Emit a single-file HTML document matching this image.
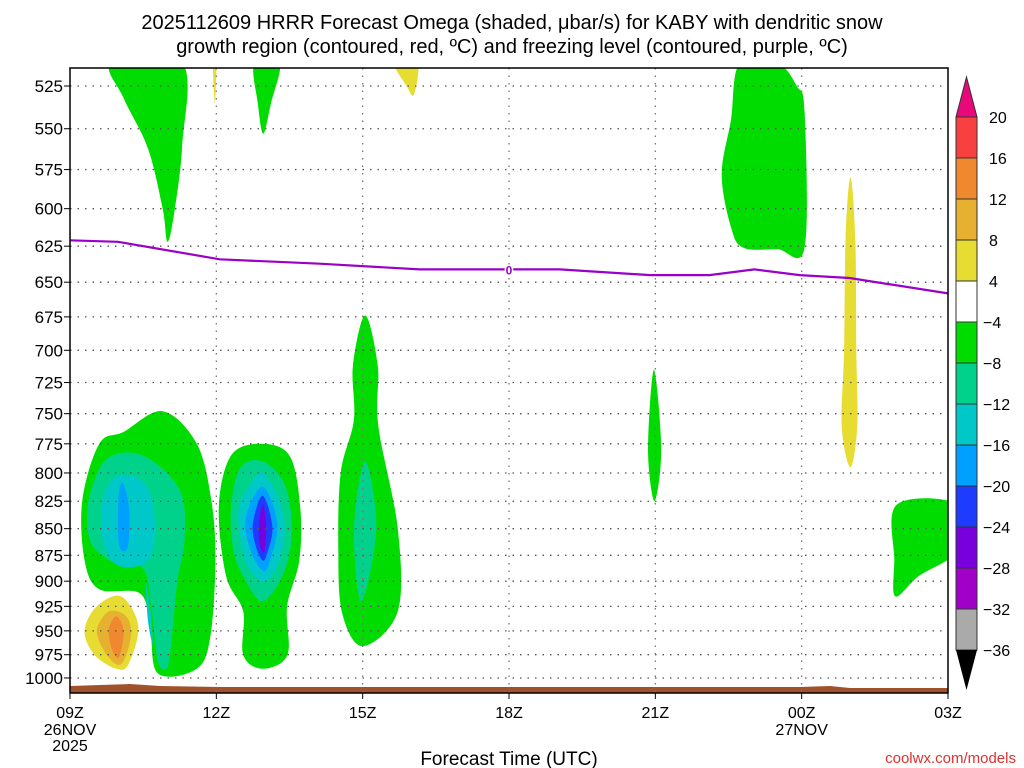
<!DOCTYPE html>
<html><head><meta charset="utf-8"><style>
html,body{margin:0;padding:0;background:#fff;}
svg{display:block;font-family:"Liberation Sans",sans-serif;}
</style></head><body>
<svg id="chart" width="1024" height="768" viewBox="0 0 1024 768">
<g id="title">
<text x="512" y="29" text-anchor="middle" font-size="20" fill="#000">2025112609 HRRR Forecast Omega (shaded, μbar/s) for KABY with dendritic snow</text>
<text x="512" y="53" text-anchor="middle" font-size="20" fill="#000">growth region (contoured, red, ºC) and freezing level (contoured, purple, ºC)</text>
</g>
<defs><clipPath id="plotclip"><rect x="70" y="68" width="878" height="625"/></clipPath></defs>
<g id="fills" clip-path="url(#plotclip)"></g>
<g id="grid"></g>
<g id="lines" clip-path="url(#plotclip)"></g>
<rect x="70" y="68" width="878" height="625" fill="none" stroke="#000" stroke-width="1.5"/>
<g id="yaxis"></g>
<g id="xaxis"></g>
<g id="cbar"></g>
<text x="509" y="765" text-anchor="middle" font-size="19">Forecast Time (UTC)</text>
<text x="1016" y="763" text-anchor="end" font-size="15" fill="#e03030">coolwx.com/models</text>
</svg>
<script>
const pLevels=[525,550,575,600,625,650,675,700,725,750,775,800,825,850,875,900,925,950,975,1000];
const xHours=[0,3,6,9,12,15,18];
const xLabels=["09Z","12Z","15Z","18Z","21Z","00Z","03Z"];
const xDateLabels=[["26NOV","2025"],[],[],[],[],["27NOV"],[]];
const cbLevels=["20","16","12","8","4","-4","-8","-12","-16","-20","-24","-28","-32","-36"];
const cbColors=["#f84040","#f08830","#e6b030","#e6dc32","#ffffff","#00dc00","#00d28c","#00c8c8","#00a0ff","#1e3cff","#7800dc","#a000c8","#aaaaaa"];
const colorOf={"y":"#e6dc32","o1":"#e6b030","o2":"#f08830","g":"#00dc00","t":"#00d28c","c":"#00c8c8","b1":"#00a0ff","b2":"#1e3cff","p":"#7800dc"};
const blobLevels=["g","y","g","y","g","y","g","t","g","g"];
const blobPoints=[
 [[0.86,512],[1.1,532],[1.6,562],[1.9,600],[2.0,622],[2.15,600],[2.3,560],[2.3,512]],
 [[2.93,512],[2.97,535],[3.0,512]],
 [[3.78,512],[3.85,535],[3.96,553],[4.12,535],[4.3,512]],
 [[6.65,512],[6.9,525],[7.05,530],[7.12,512]],
 [[13.73,512],[13.55,545],[13.36,578],[13.55,612],[13.8,626],[14.5,627],[15.06,626],[15.06,540],[14.9,525],[14.5,512]],
 [[16.0,580],[15.9,620],[15.87,700],[15.82,760],[16.0,795],[16.14,760],[16.12,700],[16.1,620]],
 [[6.05,674],[5.8,712],[5.82,755],[5.55,800],[5.5,870],[5.58,932],[6.0,966],[6.72,930],[6.72,850],[6.32,760],[6.31,712]],
 [[6.05,790],[5.82,850],[5.97,920],[6.28,850]],
 [[11.97,715],[11.85,780],[11.98,825],[12.12,780]],
 [[16.95,828],[16.9,880],[16.92,915],[17.4,895],[18.2,870],[18.2,828]]
];
const cplxLevels=["g","t","c","b1","g","t","c","b1","b2","p","y","o1","o2"];
const cplxPoints=[
 [[0.25,825],[0.6,775],[1.1,765],[1.9,748],[2.6,775],[2.9,825],[2.98,880],[2.88,955],[2.6,990],[1.8,995],[1.64,945],[1.43,912],[0.6,908],[0.3,880]],
 [[0.38,825],[0.75,788],[1.5,785],[2.25,815],[2.35,860],[2.2,900],[2.1,950],[2.0,988],[1.8,982],[1.68,930],[1.5,888],[0.9,882],[0.42,862]],
 [[0.68,822],[1.0,802],[1.55,810],[1.74,845],[1.6,880],[1.0,885],[0.68,862]],
 [[1.0,818],[1.1,810],[1.22,835],[1.18,868],[1.0,864]],
 [[3.05,830],[3.3,785],[3.9,775],[4.5,785],[4.72,830],[4.7,880],[4.45,925],[4.46,975],[3.95,990],[3.55,975],[3.55,930],[3.2,895]],
 [[3.3,830],[3.5,795],[3.95,790],[4.4,810],[4.55,850],[4.4,890],[3.95,920],[3.55,895],[3.35,870]],
 [[3.45,835],[3.7,810],[3.95,800],[4.3,825],[4.4,855],[4.25,885],[3.95,900],[3.6,880]],
 [[3.6,840],[3.95,812],[4.25,845],[4.1,880],[3.95,890],[3.7,870]],
 [[3.75,845],[3.95,820],[4.15,848],[4.05,872],[3.95,880],[3.8,865]],
 [[3.88,845],[3.95,828],[4.02,845],[4.0,868],[3.95,872],[3.88,862]],
 [[0.3,950],[0.55,925],[1.05,915],[1.4,945],[1.2,985],[0.95,990],[0.5,975]],
 [[0.55,950],[0.8,930],[1.15,935],[1.25,955],[1.05,985],[0.75,975]],
 [[0.8,948],[0.95,935],[1.1,950],[1.0,978],[0.85,968]]
];
const fzHours=[0,0.98,3.07,5.12,7.17,9.02,10.04,11.89,13.11,14.03,14.96,15.98,18];
const fzPress=[621,622,634,637,641,641,641,645,645,641,645,647,658];

const X=h=>70+h*(878/18);
const Y=p=>86+918.7*Math.log(p/525);
const NS="http://www.w3.org/2000/svg";
function mk(tag,attrs,parent){const e=document.createElementNS(NS,tag);for(const k in attrs)e.setAttribute(k,attrs[k]);parent.appendChild(e);return e;}
function smoothClosed(pts){
 const n=pts.length;let d="M"+pts[0][0].toFixed(1)+","+pts[0][1].toFixed(1);
 for(let i=0;i<n;i++){const p0=pts[(i-1+n)%n],p1=pts[i],p2=pts[(i+1)%n],p3=pts[(i+2)%n];
  const c1=[p1[0]+(p2[0]-p0[0])/6,p1[1]+(p2[1]-p0[1])/6],c2=[p2[0]-(p3[0]-p1[0])/6,p2[1]-(p3[1]-p1[1])/6];
  d+="C"+c1[0].toFixed(1)+","+c1[1].toFixed(1)+" "+c2[0].toFixed(1)+","+c2[1].toFixed(1)+" "+p2[0].toFixed(1)+","+p2[1].toFixed(1);}
 return d+"Z";}
const fills=document.getElementById('fills');
function drawBlob(level,pts,name){
 const px=pts.map(q=>[X(q[0]),Y(q[1])]);
 const e=mk('path',{d:smoothClosed(px),fill:colorOf[level]},fills);
 
 
}
blobLevels.forEach((l,i)=>drawBlob(l,blobPoints[i],'omega-region-'+i));
cplxLevels.forEach((l,i)=>drawBlob(l,cplxPoints[i],'omega-core-'+i));
drawBlob('c',[[1.55,900],[1.65,930],[1.7,965],[1.6,940]],'omega-cyan-spot');
const gnd=mk('path',{d:"M70,686 L100,685 L130,684 L160,686 L220,687 L800,687 L830,686 L850,688 L948,688 L948,693 L70,693 Z",fill:"#a0522d"},fills);



const grid=document.getElementById('grid');
pLevels.forEach(p=>{const g=mk('line',{x1:70,x2:948,y1:Y(p),y2:Y(p),stroke:"#555","stroke-width":1.3,"stroke-dasharray":"1.5,6"},grid);
 
 });
xHours.slice(1,-1).forEach(h=>{const g=mk('line',{x1:X(h),x2:X(h),y1:68,y2:693,stroke:"#777","stroke-width":1.3,"stroke-dasharray":"1.5,6"},grid);
 
 });

const lines=document.getElementById('lines');
let d="";fzHours.forEach((h,i)=>{d+=(i?"L":"M")+X(h).toFixed(1)+","+Y(fzPress[i]).toFixed(1);});
const fz=mk('path',{d:d,fill:"none",stroke:"#9a00c8","stroke-width":2.2},lines);


const fzl=mk('text',{x:X(9),y:Y(641)+5,"text-anchor":"middle","font-size":12,"font-weight":"bold",fill:"#9a00c8",stroke:"#fff","stroke-width":3,"paint-order":"stroke"},lines);
fzl.textContent="0";



const ya=document.getElementById('yaxis');
pLevels.forEach(p=>{const t=mk('text',{x:63,y:Y(p)+6,"text-anchor":"end","font-size":17},ya);t.textContent=p;
 
 
 mk('line',{x1:64,x2:70,y1:Y(p),y2:Y(p),stroke:"#000"},ya);});
const xa=document.getElementById('xaxis');
xHours.forEach((h,i)=>{mk('line',{x1:X(h),x2:X(h),y1:693,y2:699,stroke:"#000"},xa);
 const t=mk('text',{x:X(h),y:718,"text-anchor":"middle","font-size":16},xa);t.textContent=xLabels[i];
 
 
 xDateLabels[i].forEach((s,j)=>{const u=mk('text',{x:X(h),y:735+j*16,"text-anchor":"middle","font-size":16},xa);u.textContent=s;
  
  });});

const cb=document.getElementById('cbar');
const cbx=956,cbw=21,cbTop=117,cbStep=41;
mk('polygon',{points:`${cbx},${cbTop} ${cbx+cbw},${cbTop} ${cbx+cbw/2},77`,fill:"#e8087a",stroke:"#333"},cb);
cbColors.forEach((c,i)=>{const r=mk('rect',{x:cbx,y:cbTop+i*cbStep,width:cbw,height:cbStep,fill:c,stroke:"#333"},cb);
 
 });
const cbBot=cbTop+cbColors.length*cbStep;
mk('polygon',{points:`${cbx},${cbBot} ${cbx+cbw},${cbBot} ${cbx+cbw/2},690`,fill:"#000"},cb);
cbLevels.forEach((s,i)=>{const t=mk('text',{x:s[0]=="-"?983:989,y:cbTop+i*cbStep+6,"font-size":16},cb);t.textContent=s.replace("-","−");
 
 });
</script>
</body></html>
